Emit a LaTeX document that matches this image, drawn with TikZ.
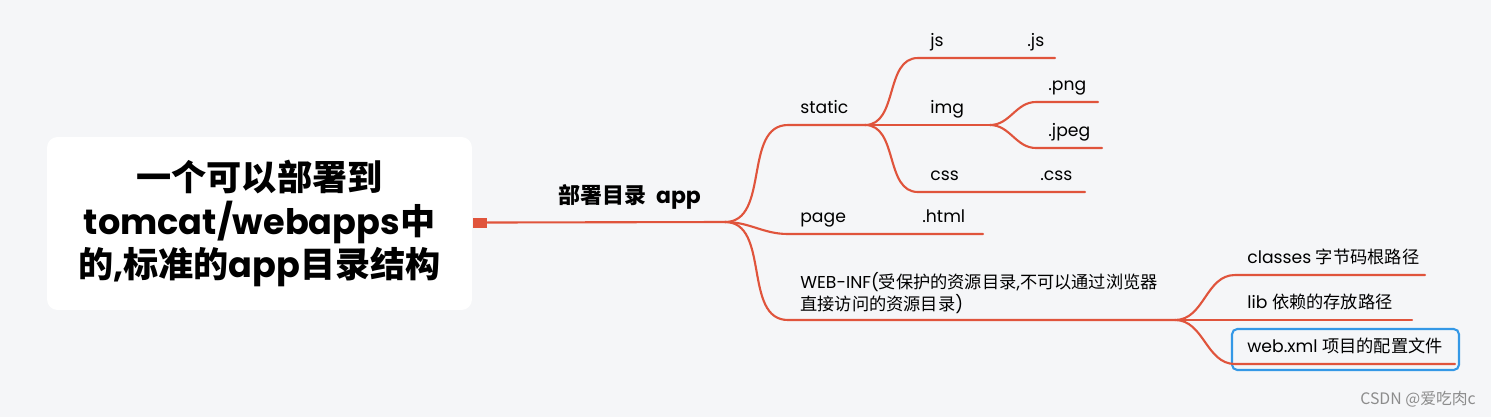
\documentclass[tikz,border=0pt]{standalone}
\usepackage{fontspec}
\setmainfont{Poppins}
\newfontfamily\cjk{Noto Sans CJK SC}
\usepackage{tikz}
\usetikzlibrary{positioning,calc}
\definecolor{bggray}{RGB}{245,246,248}
\definecolor{mindred}{RGB}{224,84,60}
\definecolor{selblue}{RGB}{52,152,230}
\newcommand\zh[1]{{\cjk #1}}
\tikzset{
  rootbox/.style={fill=white,rounded corners=6pt,align=center,
                  font=\fontsize{20}{25}\selectfont\bfseries,
                  minimum width=8.5cm,minimum height=3.46cm},
  twig/.style={draw=mindred,line width=1.2pt,line cap=round},
  lbl/.style={anchor=base west,inner sep=0pt,font=\fontsize{9.8}{12.5}\selectfont},
  selbox/.style={draw=selblue,line width=1.2pt,rounded corners=3pt,
                 minimum width=4.54cm,minimum height=0.82cm},
}

\begin{document}
\begin{tikzpicture}[x=0.02cm,y=-0.02cm]
  \fill[bggray] (0,0) rectangle (1491,417);
  \useasboundingbox (0,0) rectangle (1491,417);

  % root
  \node[rootbox] (root) at (259.5,223.5)
    {\zh{一个可以部署到}\\tomcat/webapps\zh{中}\\\zh{的},\zh{标准的}app\zh{目录结构}};
  \node[fill=mindred,inner sep=0pt,minimum width=0.28cm,minimum height=0.2cm] (knob) at (480,222.5) {};
  \coordinate (appFork) at (725,222);
  \draw[twig] (knob.east) -- (appFork);
  \node[lbl,font=\fontsize{12.5}{14}\selectfont\bfseries] (app) at (558,203) {\zh{部署目录}\hspace{0.45em}app};

  % first level
  \coordinate (staticL) at (788,125);  \coordinate (staticFork) at (865,125);
  \coordinate (pageL) at (788,234);    \coordinate (pageR) at (983,234);
  \coordinate (webinfL) at (788,320);  \coordinate (webinfFork) at (1175,320);
  \draw[twig] (appFork) to[out=0,in=180] (staticL) -- (staticFork);
  \draw[twig] (appFork) to[out=0,in=180] (pageL) -- (pageR);
  \draw[twig] (appFork) to[out=0,in=180] (webinfL) -- (webinfFork);
  \node[lbl] (static) at ($(staticL)+(12,-12)$) {static};
  \node[lbl] (page) at ($(pageL)+(12,-12)$) {page};
  \node[lbl] (html) at (922,222) {.html};
  \node[lbl,align=left,anchor=south west] (webinf) at ($(webinfL)+(12,-6)$)
    {WEB-INF(\zh{受保护的资源目录},\zh{不可以通过浏览器}\\\zh{直接访问的资源目录})};

  % static
  \coordinate (jsL) at (918,58);    \coordinate (jsR) at (1055,58);
  \coordinate (imgL) at (918,125);  \coordinate (imgFork) at (990,125);
  \coordinate (cssL) at (918,192);  \coordinate (cssR) at (1085,192);
  \draw[twig] (staticFork) to[out=0,in=180] (jsL) -- (jsR);
  \draw[twig] (staticFork) to[out=0,in=180] (imgL) -- (imgFork);
  \draw[twig] (staticFork) to[out=0,in=180] (cssL) -- (cssR);
  \node[lbl] (js) at ($(jsL)+(12,-12)$) {js};
  \node[lbl] (jsext) at (1027,46) {.js};
  \node[lbl] (img) at ($(imgL)+(12,-12)$) {img};
  \node[lbl] (css) at ($(cssL)+(12,-12)$) {css};
  \node[lbl] (cssext) at (1040,180) {.css};

  % img
  \coordinate (pngL) at (1036,102);   \coordinate (pngR) at (1098,102);
  \coordinate (jpegL) at (1036,148);  \coordinate (jpegR) at (1102,148);
  \draw[twig] (imgFork) to[out=0,in=180] (pngL) -- (pngR);
  \draw[twig] (imgFork) to[out=0,in=180] (jpegL) -- (jpegR);
  \node[lbl] (png) at ($(pngL)+(12,-12)$) {.png};
  \node[lbl] (jpeg) at ($(jpegL)+(12,-12)$) {.jpeg};

  % WEB-INF
  \node[selbox] (webxmlbox) at (1345.5,349.5) {};
  \coordinate (classesL) at (1235,275);  \coordinate (classesR) at (1425,275);
  \coordinate (libL) at (1235,320);      \coordinate (libR) at (1412,320);
  \coordinate (webxmlL) at (1235,364);   \coordinate (webxmlR) at (1455,364);
  \draw[twig] (webinfFork) to[out=0,in=180] (classesL) -- (classesR);
  \draw[twig] (webinfFork) to[out=0,in=180] (libL) -- (libR);
  \draw[twig] (webinfFork) to[out=0,in=180] (webxmlL) -- (webxmlR);
  \node[lbl] (classes) at ($(classesL)+(12,-12)$) {classes \zh{字节码根路径}};
  \node[lbl] (lib) at ($(libL)+(12,-12)$) {lib \zh{依赖的存放路径}};
  \node[lbl] (webxml) at ($(webxmlL)+(12,-12)$) {web.xml \zh{项目的配置文件}};

  \node[lbl,text=black!45,font=\cjk\fontsize{9}{10}\selectfont] (mark) at (1360,404) {CSDN @爱吃肉c};
\end{tikzpicture}
\end{document}
